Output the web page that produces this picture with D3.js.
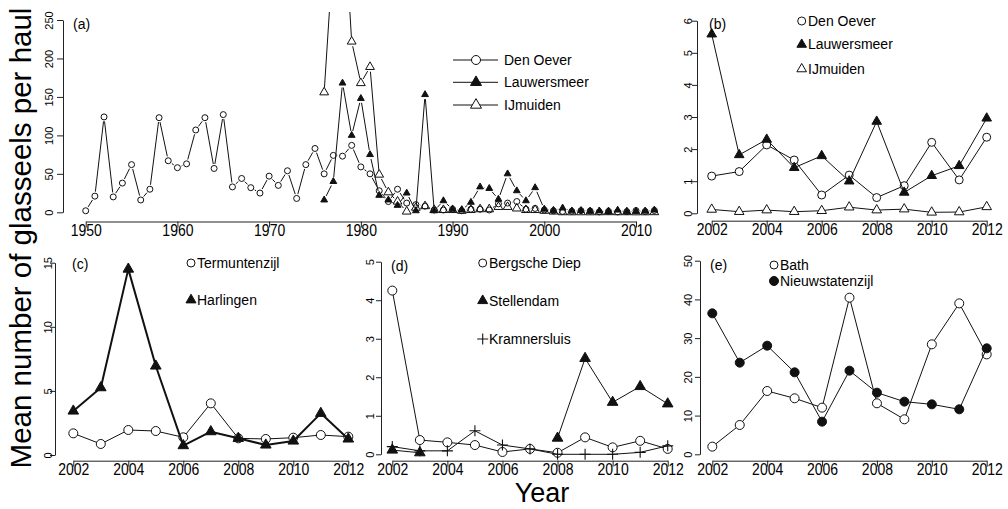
<!DOCTYPE html>
<html><head><meta charset="utf-8">
<script src="https://cdn.jsdelivr.net/npm/d3@7"></script>
<style>body{margin:0;background:#fff}svg{display:block}</style>
</head><body><svg id="c" width="1008" height="509"></svg>
<script>
// ---------- DATA ----------
const yearsA = [1950,1951,1952,1953,1954,1955,1956,1957,1958,1959,1960,1961,1962,1963,1964,1965,1966,1967,1968,1969,1970,1971,1972,1973,1974,1975,1976,1977,1978,1979,1980,1981,1982,1983,1984,1985,1986,1987,1988,1989,1990,1991,1992,1993,1994,1995,1996,1997,1998,1999,2000,2001,2002,2003,2004,2005,2006,2007,2008,2009,2010,2011,2012];
const denOeverA = [2,21,124,20,38,62,16,30,123,67,58,63,107,123,57,127,33,44,32,25,47,35,54,18,62,83,50,74,73,87,59,50,28,14,30,12,10,8,3,3,4,2,4,4,3,11,12,14,4,5,3,2,1.16,1.3,2.13,1.66,0.57,1.19,0.49,0.86,2.21,1.04,2.37];
const yearsA2 = [1976,1977,1978,1979,1980,1981,1982,1983,1984,1985,1986,1987,1988,1989,1990,1991,1992,1993,1994,1995,1996,1997,1998,1999,2000,2001,2002,2003,2004,2005,2006,2007,2008,2009,2010,2011,2012];
const lauwersmeerA = [16,40,168,100,148,75,22,16,9,25,2,153,2,15,4,3,13,33,31,17,50,28,15,32,4,2,5.58,1.82,2.3,1.42,1.79,1.0,2.86,0.65,1.17,1.48,2.96];
const ijmuidenA = [156,340,420,222,168,189,49,26,14,1,6,8,3,3,3,2,3,4,4,7,7,5,3,3,2,1,0.12,0.05,0.1,0.05,0.08,0.19,0.1,0.13,0.03,0.04,0.2];

const yearsB = [2002,2003,2004,2005,2006,2007,2008,2009,2010,2011,2012];
const denOeverB = [1.16,1.3,2.13,1.66,0.57,1.19,0.49,0.86,2.21,1.04,2.37];
const lauwersmeerB = [5.58,1.82,2.3,1.42,1.79,1.0,2.86,0.65,1.17,1.48,2.96];
const ijmuidenB = [0.12,0.05,0.1,0.05,0.08,0.19,0.1,0.13,0.03,0.04,0.2];

const termuntenzijlC = [1.69,0.86,1.95,1.87,1.38,4.03,1.3,1.25,1.35,1.56,1.43];
const harlingenC = [3.43,5.25,14.5,6.94,0.73,1.82,1.3,0.78,1.09,3.25,1.25];

const bergscheDiepD = [4.25,0.37,0.31,0.24,0.06,0.14,0.04,0.44,0.18,0.35,0.14];
const stellendamD = [0.11,0.04,null,null,null,null,0.42,2.49,1.35,1.76,1.31];
const kramnersluisD = [0.2,0.09,0.09,0.61,0.24,0.14,0,0,0,0.05,0.22];

const bathE = [1.98,7.57,16.35,14.46,12.05,40.45,13.17,9.04,28.4,38.98,25.8];
const nieuwstatenzijlE = [36.4,23.67,28.05,21.17,8.43,21.6,15.92,13.6,12.9,11.62,27.37];

const xTicksA = [1950,1960,1970,1980,1990,2000,2010];
const yTicksA = [0,50,100,150,200,250];
const xTicksRecent = [2002,2004,2006,2008,2010,2012];
const yTicksB = [0,1,2,3,4,5,6];
const yTicksC = [0,5,10,15];
const yTicksD = [0,1,2,3,4,5];
const yTicksE = [0,10,20,30,40,50];

// ---------- DRAWING ----------
const FONT = "'Liberation Sans', Arial, sans-serif";
const svg = d3.select("#c");
const INK = "#111";

function triPath(cx, cy, hw){ const h = hw*Math.sqrt(3); return `M${cx},${cy-2*h/3}L${cx+hw},${cy+h/3}L${cx-hw},${cy+h/3}Z`; }
function plusPath(cx, cy, s){ return `M${cx-s},${cy}H${cx+s}M${cx},${cy-s}V${cy+s}`; }

function marker(g, shape, cx, cy, size, openFill){
  if (shape === "circle") g.append("circle").attr("cx",cx).attr("cy",cy).attr("r",size).attr("fill",openFill).attr("stroke",INK).attr("stroke-width",1);
  else if (shape === "dot") g.append("circle").attr("cx",cx).attr("cy",cy).attr("r",size).attr("fill",INK).attr("stroke",INK).attr("stroke-width",1);
  else if (shape === "triF") g.append("path").attr("d",triPath(cx,cy,size)).attr("fill",INK).attr("stroke",INK).attr("stroke-width",1);
  else if (shape === "triO") g.append("path").attr("d",triPath(cx,cy,size)).attr("fill",openFill).attr("stroke",INK).attr("stroke-width",1);
  else if (shape === "plus") g.append("path").attr("d",plusPath(cx,cy,size)).attr("fill","none").attr("stroke",INK).attr("stroke-width",1.1);
}

function series(g, x, y, years, vals, o){
  const pts = years.map((yr,i)=>({yr, v: vals[i]}));
  if (o.gap){
    for (let i=0;i<pts.length-1;i++){
      const a=pts[i], b=pts[i+1];
      if (a.v==null||b.v==null) continue;
      const x1=x(a.yr), y1=y(a.v), x2=x(b.yr), y2=y(b.v);
      const L=Math.hypot(x2-x1,y2-y1);
      if (L<=2*o.gap) continue;
      const ux=(x2-x1)/L, uy=(y2-y1)/L;
      g.append("line").attr("x1",x1+ux*o.gap).attr("y1",y1+uy*o.gap).attr("x2",x2-ux*o.gap).attr("y2",y2-uy*o.gap)
        .attr("stroke",INK).attr("stroke-width",o.lw||1);
    }
  } else {
    const line = d3.line().defined(d=>d.v!=null).x(d=>x(d.yr)).y(d=>y(d.v));
    g.append("path").attr("d",line(pts)).attr("fill","none").attr("stroke",INK).attr("stroke-width",o.lw||1).attr("stroke-linejoin","round");
  }
  pts.forEach(d=>{ if(d.v!=null) marker(g,o.shape,x(d.yr),y(d.v),o.size,o.openFill); });
}

function axes(g, x, y, c){
  const ax = g.append("g").attr("transform",`translate(0,${c.xAxisY})`)
    .call(d3.axisBottom(x).tickValues(c.xTicks).tickSize(6).tickSizeOuter(0).tickFormat(d3.format("d")));
  ax.attr("font-family",FONT).attr("font-size",14).attr("color","#222");
  ax.selectAll("text").attr("fill","#000").attr("y",0).attr("dy","0.71em").attr("transform","translate(0,3) scale(1,1.16)");
  const ay = g.append("g").attr("transform",`translate(${c.yAxisX},0)`)
    .call(d3.axisLeft(y).tickValues(c.yTicks).tickSize(c.tick).tickSizeOuter(0).tickFormat(d3.format("d")));
  ay.attr("font-family",FONT).attr("font-size",11).attr("color","#222");
  ay.selectAll("text").attr("fill","#000").attr("transform","rotate(-90)").attr("x",0).attr("y",-(c.yAxisX-c.labCx-4)).attr("dy",null).attr("text-anchor","middle");
}

function txt(x0,y0,s,size,anchor){
  return svg.append("text").attr("x",x0).attr("y",y0).attr("dy","0.35em").attr("font-family",FONT).attr("font-size",size||14).attr("text-anchor",anchor||"start").attr("fill","#000").text(s);
}

function legend(items, symX, textX, rows, lineSpan){
  items.forEach((it,i)=>{
    const g = svg.append("g");
    if (lineSpan) g.append("line").attr("x1",lineSpan[0]).attr("x2",lineSpan[1]).attr("y1",rows[i]).attr("y2",rows[i]).attr("stroke",INK).attr("stroke-width",1);
    marker(g,it.shape,symX,rows[i],it.size,"#fff");
    txt(textX,rows[i],it.label,14);
  });
}

// Panel (a)
{
  const x = d3.scaleLinear().domain([1950,2010]).range([85.7,636]);
  const y = d3.scaleLinear().domain([0,250]).range([212.3,20]);
  const g = svg.append("g");
  axes(g,x,y,{xAxisY:221.5,xTicks:xTicksA,yAxisX:63,yTicks:yTicksA,tick:6,labCx:49});
  svg.append("clipPath").attr("id","clipA").append("rect").attr("x",60).attr("y",12).attr("width",620).attr("height",228);
  const p = svg.append("g").attr("clip-path","url(#clipA)");
  series(p,x,y,yearsA,denOeverA,{shape:"circle",size:3,gap:4.5,openFill:"none"});
  series(p,x,y,yearsA2,lauwersmeerA,{shape:"triF",size:3.4,gap:4.5,openFill:"none"});
  series(p,x,y,yearsA2,ijmuidenA,{shape:"triO",size:4.4,gap:4.8,openFill:"none"});
  txt(73,24,"(a)",14);
  legend([{label:"Den Oever",shape:"circle",size:4.5},{label:"Lauwersmeer",shape:"triF",size:5.5},{label:"IJmuiden",shape:"triO",size:5.5}],476,504,[60,82.3,105],[453,498]);
}
// Panel (b)
{
  const x = d3.scaleLinear().domain([2002,2012]).range([711.7,986.7]);
  const y = d3.scaleLinear().domain([0,6]).range([213.3,20.7]);
  const g = svg.append("g");
  axes(g,x,y,{xAxisY:220.7,xTicks:xTicksRecent,yAxisX:697,yTicks:yTicksB,tick:5,labCx:688});
  series(g,x,y,yearsB,denOeverB,{shape:"circle",size:4,openFill:"#fff"});
  series(g,x,y,yearsB,lauwersmeerB,{shape:"triF",size:4.8,openFill:"#fff"});
  series(g,x,y,yearsB,ijmuidenB,{shape:"triO",size:4.8,openFill:"#fff"});
  txt(709,24,"(b)",14);
  legend([{label:"Den Oever",shape:"circle",size:4},{label:"Lauwersmeer",shape:"triF",size:4.8},{label:"IJmuiden",shape:"triO",size:4.8}],801.7,808,[21,44.5,69]);
}
// Panel (c)
{
  const x = d3.scaleLinear().domain([2002,2012]).range([73.3,348.3]);
  const y = d3.scaleLinear().domain([0,15]).range([455,262.7]);
  const g = svg.append("g");
  axes(g,x,y,{xAxisY:460.7,xTicks:xTicksRecent,yAxisX:55,yTicks:yTicksC,tick:5,labCx:48});
  series(g,x,y,yearsB,termuntenzijlC,{shape:"circle",size:4.5,openFill:"#fff"});
  series(g,x,y,yearsB,harlingenC,{shape:"triF",size:5.3,openFill:"#fff",lw:2});
  txt(72,264,"(c)",14);
  legend([{label:"Termuntenzijl",shape:"circle",size:4},{label:"Harlingen",shape:"triF",size:5}],191,197,[263,300]);
}
// Panel (d)
{
  const x = d3.scaleLinear().domain([2002,2012]).range([392.3,667.7]);
  const y = d3.scaleLinear().domain([0,5]).range([454.3,261.7]);
  const g = svg.append("g");
  axes(g,x,y,{xAxisY:460.7,xTicks:xTicksRecent,yAxisX:381,yTicks:yTicksD,tick:5,labCx:370});
  series(g,x,y,yearsB,bergscheDiepD,{shape:"circle",size:4.5,openFill:"#fff"});
  series(g,x,y,yearsB,kramnersluisD,{shape:"plus",size:5.5,openFill:"#fff"});
  series(g,x,y,yearsB,stellendamD,{shape:"triF",size:5.3,openFill:"#fff"});
  txt(391,266,"(d)",14);
  legend([{label:"Bergsche Diep",shape:"circle",size:4},{label:"Stellendam",shape:"triF",size:5},{label:"Kramnersluis",shape:"plus",size:5.5}],482.7,489,[263,300.7,339]);
}
// Panel (e)
{
  const x = d3.scaleLinear().domain([2002,2012]).range([712.3,986.7]);
  const y = d3.scaleLinear().domain([0,50]).range([454.3,260.7]);
  const g = svg.append("g");
  axes(g,x,y,{xAxisY:460.7,xTicks:xTicksRecent,yAxisX:700,yTicks:yTicksE,tick:5,labCx:688});
  series(g,x,y,yearsB,bathE,{shape:"circle",size:4.5,openFill:"#fff"});
  series(g,x,y,yearsB,nieuwstatenzijlE,{shape:"dot",size:4.5,openFill:"#fff"});
  txt(710,265,"(e)",14);
  legend([{label:"Bath",shape:"circle",size:4},{label:"Nieuwstatenzijl",shape:"dot",size:4.5}],774,780,[265,281]);
}
// Axis titles
svg.append("text").attr("transform","translate(31,238) rotate(-90)").attr("text-anchor","middle")
  .attr("font-family",FONT).attr("font-size",29.5).attr("fill","#000").text("Mean number of glasseels per haul");
svg.append("text").attr("x",542).attr("y",502).attr("text-anchor","middle")
  .attr("font-family",FONT).attr("font-size",27).attr("fill","#000").text("Year");
</script></body></html>
